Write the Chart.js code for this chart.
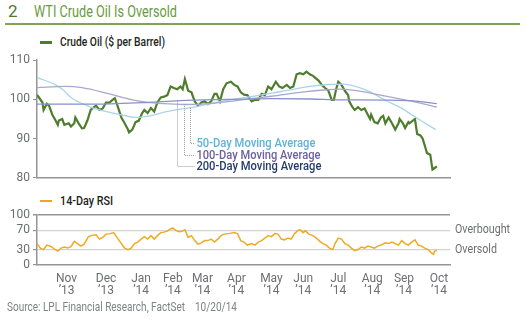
<!DOCTYPE html>
<html>
<head>
<meta charset="utf-8">
<script src="https://cdn.jsdelivr.net/npm/chart.js@4.4.1/dist/chart.umd.min.js"></script>
<style>
  body { margin: 0; background: #fff; font-family: Roboto, "DejaVu Sans Condensed", sans-serif; }
  #wrap { position: relative; width: 525px; height: 323px; overflow: hidden; }
  .fit { display: inline-block; white-space: nowrap; transform-origin: left center; }
  .title { position: absolute; left: 8px; top: 1px; font-size: 17px; color: #6a9a3f; white-space: nowrap; }
  .title .num { position: absolute; left: 0; top: 0; color: #4e7a2c; }
  .title .fit { position: absolute; left: 26px; top: 0; }
  .rule { position: absolute; left: 5px; top: 23px; width: 515px; height: 2px; background: #7ea552; }
  .legend { position: absolute; left: 40px; font-size: 13.5px; font-weight: 500; color: #231f20; white-space: nowrap; }
  .legend i { position: absolute; left: 0; width: 12px; height: 2px; }
  .legend .fit { position: absolute; left: 20px; top: 0; }
  .source { position: absolute; left: 7px; top: 299px; font-size: 13px; color: #808285; }
  canvas { position: absolute; left: 0; }
</style>
</head>
<body>
<div id="wrap">
  <div class="title"><span class="num">2</span><span class="fit" data-w="143">WTI Crude Oil Is Oversold</span></div>
  <div class="rule"></div>
  <div class="legend" style="top:33px"><i style="background:#4f7d2e;height:2.5px;top:8px"></i><span class="fit" data-w="105">Crude Oil ($ per Barrel)</span></div>
  <div class="legend" style="top:192px"><i style="background:#eaa81f;top:8px"></i><span class="fit" data-w="53">14-Day RSI</span></div>
  <canvas id="oil" width="525" height="138" style="top:50px"></canvas>
  <canvas id="rsi" width="525" height="100" style="top:205px"></canvas>
  <div class="source"><span class="fit" data-w="230">Source: LPL Financial Research, FactSet&nbsp;&nbsp;&nbsp;&nbsp;10/20/14</span></div>
</div>
<script>
// x = trading days since 17 Oct 2013
const monthDays = [27, 63, 95, 124, 151, 182, 214, 243, 275, 306, 335, 367];
const monthNames = ["Nov", "Dec", "Jan", "Feb", "Mar", "Apr", "May", "Jun", "Jul", "Aug", "Sep", "Oct"];
const monthYears = ["’13", "’13", "’14", "’14", "’14", "’14", "’14", "’14", "’14", "’14", "’14", "’14"];

const crudeDays = [0, 1, 5, 6, 9, 11, 14, 17, 19, 20, 23, 25, 29, 31, 34, 35, 38, 41, 43, 46, 49, 52, 54, 57, 60, 63, 66, 69, 71, 73, 77, 80, 83, 84, 87, 90, 93, 96, 98, 101, 104, 107, 110, 113, 116, 119, 122, 125, 128, 131, 133, 135, 138, 141, 144, 147, 150, 153, 156, 159, 162, 164, 167, 170, 173, 177, 180, 183, 186, 189, 192, 196, 199, 202, 205, 208, 211, 214, 218, 221, 224, 228, 231, 234, 237, 240, 243, 246, 249, 252, 257, 260, 263, 266, 269, 271, 273, 275, 278, 281, 284, 285, 288, 290, 293, 296, 299, 302, 304, 305, 308, 311, 314, 316, 318, 321, 324, 327, 330, 331, 334, 336, 339, 340, 345, 347, 350, 352, 354, 356, 359, 361, 363, 365];
const crudePrice = [101.1, 100.8, 99.2, 97.3, 98.9, 98.4, 96.1, 94.6, 93.5, 94.6, 95.0, 93.5, 93.9, 93.1, 93.9, 95.4, 93.9, 92.6, 92.7, 94.6, 97.3, 98.0, 98.4, 97.3, 97.7, 99.2, 99.2, 99.9, 100.3, 98.8, 95.4, 93.9, 92.3, 91.6, 92.3, 94.2, 94.6, 96.5, 97.3, 96.5, 97.8, 96.9, 99.3, 100.5, 100.7, 101.1, 103.3, 102.9, 102.6, 103.3, 102.6, 105.2, 102.2, 101.8, 99.5, 98.4, 99.2, 99.5, 98.8, 99.5, 101.4, 101.4, 99.5, 102.6, 104.1, 104.5, 103.7, 103.3, 101.8, 101.2, 101.1, 99.5, 99.9, 99.9, 101.4, 101.1, 103.3, 102.6, 104.5, 103.3, 102.9, 103.7, 102.9, 103.3, 106.4, 106.7, 106.4, 107.1, 106.4, 106.0, 104.8, 103.7, 102.9, 102.2, 99.9, 99.9, 102.5, 104.5, 103.7, 102.2, 101.1, 99.5, 98.0, 97.3, 98.0, 97.3, 97.7, 96.1, 95.0, 96.1, 94.2, 93.9, 95.4, 95.8, 93.9, 95.4, 93.9, 92.3, 93.9, 95.0, 93.9, 92.7, 94.2, 93.9, 95.0, 91.2, 90.8, 90.0, 88.2, 86.3, 85.9, 82.1, 82.5, 82.9];

const ma50Days = [0, 17, 23, 32, 45, 57, 75, 90, 103, 118, 131, 140, 153, 167, 183, 198, 214, 235, 246, 266, 280, 302, 317, 333, 348, 364];
const ma50 = [105.6, 103.7, 102.6, 100.3, 98.5, 97.3, 96.2, 95.4, 95.8, 96.9, 97.5, 97.9, 98.6, 99.4, 100.2, 100.8, 101.6, 102.6, 103.2, 103.8, 103.9, 102.2, 99.9, 97.7, 95.0, 92.3];

const ma100Days = [0, 26, 41, 66, 87, 103, 125, 135, 160, 185, 214, 246, 262, 275, 290, 310, 330, 348, 365];
const ma100 = [103.0, 103.3, 103.0, 101.4, 99.9, 99.2, 98.8, 98.7, 99.0, 99.8, 100.8, 102.0, 102.4, 102.6, 102.3, 101.3, 100.2, 99.2, 98.0];

const ma200Days = [0, 55, 100, 130, 175, 215, 250, 275, 320, 348, 365];
const ma200 = [98.8, 98.8, 99.2, 99.7, 100.0, 100.2, 100.1, 99.9, 99.8, 99.5, 98.9];

const rsiDays = [0, 3, 6, 9, 13, 16, 19, 22, 25, 28, 31, 34, 37, 40, 43, 47, 51, 54, 57, 60, 63, 67, 70, 73, 77, 80, 83, 86, 89, 92, 95, 98, 101, 104, 107, 110, 113, 116, 119, 122, 124, 127, 130, 133, 135, 138, 141, 144, 147, 150, 153, 156, 159, 162, 165, 168, 171, 176, 180, 183, 186, 189, 192, 196, 199, 202, 205, 208, 211, 214, 217, 220, 223, 226, 229, 232, 235, 238, 240, 243, 245, 248, 252, 255, 258, 261, 264, 267, 270, 272, 275, 278, 281, 284, 287, 290, 293, 296, 299, 302, 305, 308, 311, 314, 318, 321, 324, 327, 330, 333, 336, 339, 342, 345, 348, 351, 354, 357, 360, 362, 363, 365];
const rsiValues = [43, 34, 31, 40, 37, 32, 28, 34, 36, 34, 37, 47.5, 43, 38, 42, 57, 60, 60.5, 52, 55.5, 62, 63, 65, 55.5, 43, 34, 31, 34, 43, 46, 52, 57, 52, 59, 52, 59, 65, 66, 68, 73, 74, 69, 67, 68, 71, 55.5, 59, 49, 42, 44.5, 49, 49, 52, 46, 52, 59, 62, 63.5, 65, 63, 49, 46, 40, 43, 40, 46, 49, 54, 59, 57, 63, 62, 52, 50.5, 54, 52, 63, 69, 71, 65, 69, 62, 59, 54, 48, 43, 40, 34, 31, 43, 54, 52, 43, 40, 34, 29, 31, 36, 34, 38, 36, 34, 38, 40, 44.5, 43, 46, 43, 40, 49, 43, 40, 46, 50.5, 40, 38, 34, 31, 24.5, 21.5, 28, 29.5];

const rsiTicks = [0, 30, 70, 100];

// callouts for the moving averages: anchor on the line, label position below
const maCallouts = [
    { text: "50-Day Moving Average", color: "#5fb2d8", day: 140, from: 97.8, to: 88.9, w: 119 },
    { text: "100-Day Moving Average", color: "#6b62a0", day: 134, from: 98.8, to: 85.8, w: 124 },
    { text: "200-Day Moving Average", color: "#253c6b", day: 128, from: 99.7, to: 82.9, w: 125 },
];
const calloutTextDay = 145.5;

const FONT = 'Roboto, "DejaVu Sans Condensed", sans-serif';
const AXIS = "#939598";
const TICK_TEXT = "#6d6e71";
const X_MAX = 377;

const zip = (xs, ys) => xs.map((x, i) => ({ x: x, y: ys[i] }));

// squeeze html text to the condensed face of the original
document.querySelectorAll(".fit").forEach((el) => {
    const w = el.getBoundingClientRect().width;
    el.style.transform = "scaleX(" + (Number(el.dataset.w) / w) + ")";
});

// same for canvas text
const fillFit = (ctx, text, x, y, w) => {
    const m = ctx.measureText(text).width;
    ctx.save();
    ctx.translate(x, y);
    ctx.scale(w / m, 1);
    ctx.fillText(text, 0, 0);
    ctx.restore();
};

Chart.defaults.font.family = FONT;
Chart.defaults.font.size = 12;
Chart.defaults.color = TICK_TEXT;
Chart.defaults.animation = false;

const yWidth = (axis) => { axis.width = 37; };

// Moving average labels with dotted leaders
const calloutPlugin = {
    id: "callouts",
    afterDatasetsDraw(c) {
        const x = c.scales.x, y = c.scales.y;
        const ctx = c.ctx;
        ctx.save();
        maCallouts.forEach((m) => {
            const px = Math.round(x.getPixelForValue(m.day)) + 0.5;
            const top = y.getPixelForValue(m.from);
            const bot = Math.round(y.getPixelForValue(m.to)) + 0.5;
            const tx = x.getPixelForValue(calloutTextDay);
            ctx.strokeStyle = "#9a9a9a";
            ctx.lineWidth = 1;
            ctx.setLineDash([1, 1]);
            ctx.beginPath();
            ctx.moveTo(px, top);
            ctx.lineTo(px, bot);
            ctx.lineTo(tx - 1, bot);
            ctx.stroke();
            ctx.setLineDash([]);
            ctx.fillStyle = m.color;
            ctx.font = "500 13px " + FONT;
            ctx.textBaseline = "middle";
            ctx.textAlign = "left";
            fillFit(ctx, m.text, tx, bot, m.w);
        });
        ctx.restore();
    },
};

new Chart(document.getElementById("oil"), {
    type: "line",
    data: {
        datasets: [
            {
                label: "200-Day Moving Average",
                data: zip(ma200Days, ma200),
                borderColor: "#8494c6",
                borderWidth: 1.3,
                cubicInterpolationMode: "monotone",
            },
            {
                label: "100-Day Moving Average",
                data: zip(ma100Days, ma100),
                borderColor: "#aaa6d0",
                borderWidth: 1.3,
                cubicInterpolationMode: "monotone",
            },
            {
                label: "50-Day Moving Average",
                data: zip(ma50Days, ma50),
                borderColor: "#a9d5eb",
                borderWidth: 1.3,
                cubicInterpolationMode: "monotone",
            },
            {
                label: "Crude Oil ($ per Barrel)",
                data: zip(crudeDays, crudePrice),
                borderColor: "#4f7d2e",
                borderWidth: 2.2,
                tension: 0,
            },
        ],
    },
    options: {
        responsive: false,
        layout: { padding: { top: 4, right: 75, left: 0, bottom: 0 } },
        elements: { point: { radius: 0 } },
        scales: {
            x: {
                type: "linear",
                min: 0,
                max: X_MAX,
                ticks: { display: false },
                grid: { display: false },
                border: { color: AXIS, width: 1.5 },
                afterFit: (axis) => { axis.height = 1; },
            },
            y: {
                min: 80,
                max: 110,
                ticks: { stepSize: 10, padding: 3, color: TICK_TEXT, autoSkip: false },
                grid: { drawOnChartArea: false, tickLength: 4, color: AXIS },
                border: { color: AXIS, width: 1.5 },
                afterFit: yWidth,
            },
        },
        plugins: { legend: { display: false }, tooltip: { enabled: false } },
    },
    plugins: [calloutPlugin],
});

// Overbought / Oversold side labels
const zoneLabels = {
    id: "zoneLabels",
    afterDraw(c) {
        const ctx = c.ctx, y = c.scales.y;
        ctx.save();
        ctx.fillStyle = TICK_TEXT;
        ctx.font = "12.5px " + FONT;
        ctx.textBaseline = "middle";
        ctx.textAlign = "left";
        fillFit(ctx, "Overbought", c.chartArea.right + 5, y.getPixelForValue(70), 55);
        fillFit(ctx, "Oversold", c.chartArea.right + 5, y.getPixelForValue(30), 42);
        ctx.restore();
    },
};

new Chart(document.getElementById("rsi"), {
    type: "line",
    data: {
        datasets: [
            {
                label: "14-Day RSI",
                data: zip(rsiDays, rsiValues),
                borderColor: "#eeab22",
                borderWidth: 1.5,
                tension: 0,
            },
        ],
    },
    options: {
        responsive: false,
        layout: { padding: { top: 6, right: 75, left: 0, bottom: 0 } },
        elements: { point: { radius: 0 } },
        scales: {
            x: {
                type: "linear",
                min: 0,
                max: X_MAX,
                afterBuildTicks: (axis) => {
                    axis.ticks = monthDays.map((d) => ({ value: d }));
                },
                ticks: {
                    autoSkip: false,
                    maxRotation: 0,
                    padding: 0,
                    color: TICK_TEXT,
                    font: { size: 12, lineHeight: 1.0 },
                    callback: (value) => {
                        const i = monthDays.indexOf(value);
                        return i < 0 ? "" : [monthNames[i], monthYears[i]];
                    },
                },
                grid: { display: false },
                border: { color: AXIS, width: 1.5 },
                afterFit: (axis) => { axis.height = 40; },
            },
            y: {
                min: 0,
                max: 100,
                afterBuildTicks: (axis) => {
                    axis.ticks = rsiTicks.map((v) => ({ value: v }));
                },
                ticks: { padding: 3, color: TICK_TEXT, autoSkip: false },
                grid: {
                    tickLength: 4,
                    color: (ctx) => {
                        const v = ctx.tick && ctx.tick.value;
                        if (v === 100) return AXIS;
                        if (v === 0) return "rgba(0,0,0,0)";
                        return "#d1d3d4";
                    },
                    tickColor: AXIS,
                    lineWidth: (ctx) => (ctx.tick && ctx.tick.value === 100 ? 1.5 : 1.2),
                },
                border: { color: AXIS, width: 1.5 },
                afterFit: yWidth,
            },
        },
        plugins: { legend: { display: false }, tooltip: { enabled: false } },
    },
    plugins: [zoneLabels],
});
</script>
</body>
</html>
